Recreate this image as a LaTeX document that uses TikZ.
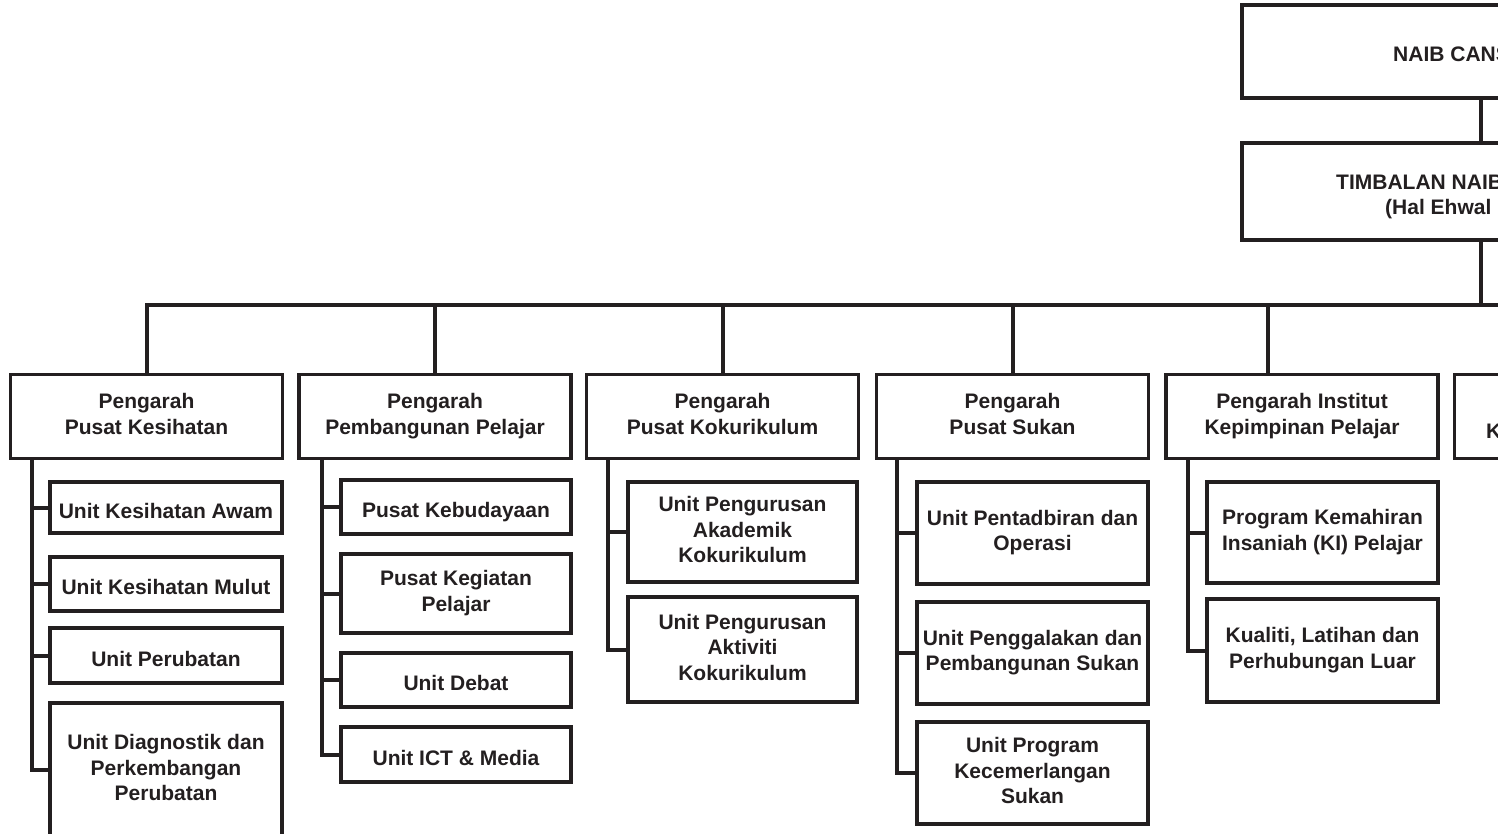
\documentclass[tikz,border=0pt]{standalone}
\usepackage{fontspec}
\setmainfont{Liberation Sans}
\usepackage{tikz}
\definecolor{inkblack}{RGB}{35,31,32}
\newcommand{\boxstrut}{\vrule width 0pt height 26pt depth 5pt}
\tikzset{
  orgbox/.style={draw=inkblack, line width=3.6pt, rectangle, align=center, inner sep=2pt,
    text=inkblack, font=\fontsize{21}{25.5}\selectfont\bfseries,
    execute at begin node=\boxstrut, execute at end node=\boxstrut},
  headbox/.style={orgbox, minimum width=272, minimum height=84},
  unitbox/.style={orgbox, minimum width=231},
  cuttext/.style={anchor=base west, inner sep=0pt, text=inkblack,
    font=\fontsize{21}{25}\selectfont\bfseries},
  link/.style={draw=inkblack, line width=4pt}
}

\begin{document}
\begin{tikzpicture}[x=1pt, y=-1pt]
  \useasboundingbox (0,0) rectangle (1498,833);
  \clip (0,0) rectangle (1498,833);
  \node[orgbox, minimum width=478, minimum height=93] (vc) at (1481,51.5) {};
  \node[cuttext] (vct) at (1393,61) {NAIB CANS};
  \node[orgbox, minimum width=478, minimum height=97] (tnc) at (1481,191.5) {};
  \node[cuttext] (tnct) at (1336,189) {TIMBALAN NAIB};
  \node[cuttext] (tncs) at (1385,214) {(Hal Ehwal};
  \foreach \n/\x/\t in {d1/146.5/{Pengarah\\Pusat Kesihatan},
      d2/435/{Pengarah\\Pembangunan Pelajar}, d3/722.5/{Pengarah\\Pusat Kokurikulum},
      d4/1012.5/{Pengarah\\Pusat Sukan}, d5/1302/{Pengarah Institut\\Kepimpinan Pelajar}}{
    \node[headbox] (\n) at (\x,416.5) {\t};
  }
  \node[headbox] (d6) at (1590.5,416.5) {};
  \node[cuttext] (d6t) at (1486,438) {K};
  \coordinate (busend) at (1520,305);
  \coordinate (j5) at (1268,305);
  \draw[link] (vc.south) -- (tnc.north);
  \draw[link] (tnc.south) -- (tnc.south |- busend);
  \draw[link] (d1.north) |- (busend);
  \foreach \n in {d2,d3,d4}{
    \draw[link] (\n.north) -- (\n.north |- busend);
  }
  \draw[link] (j5) -- (j5 |- d5.north);
  \foreach \n/\y/\h/\t in {c11/507.5/51/{Unit Kesihatan Awam}, c12/584/54/{Unit Kesihatan Mulut},
      c13/655.5/55/{Unit Perubatan}, c14/770/134/{Unit Diagnostik dan\\Perkembangan\\Perubatan}}{
    \node[unitbox, minimum width=232, minimum height=\h] (\n) at (166,\y) {\t};
  }
  \foreach \n/\y/\h/\t in {c21/507/54/{Pusat Kebudayaan}, c22/593.5/79/{Pusat Kegiatan\\Pelajar},
      c23/680/54/{Unit Debat}, c24/754.5/55/{Unit ICT \& Media}}{
    \node[unitbox, minimum width=230, minimum height=\h] (\n) at (456,\y) {\t};
  }
  \foreach \n/\y/\h/\t in {c31/532/100/{Unit Pengurusan\\Akademik\\Kokurikulum},
      c32/649.5/105/{Unit Pengurusan\\Aktiviti\\Kokurikulum}}{
    \node[unitbox, minimum width=229, minimum height=\h] (\n) at (742.5,\y) {\t};
  }
  \foreach \n/\y/\t in {c41/533/{Unit Pentadbiran dan\\Operasi},
      c42/653/{Unit Penggalakan dan\\Pembangunan Sukan}, c43/773/{Unit Program\\Kecemerlangan\\Sukan}}{
    \node[unitbox, minimum height=102] (\n) at (1032.5,\y) {\t};
  }
  \foreach \n/\y/\h/\t in {c51/532.5/101/{Program Kemahiran\\Insaniah (KI) Pelajar},
      c52/650.5/103/{Kualiti, Latihan dan\\Perhubungan Luar}}{
    \node[unitbox, minimum height=\h] (\n) at (1322.5,\y) {\t};
  }
  \coordinate (s1) at (32,0);
  \coordinate (s2) at (322,0);
  \coordinate (s3) at (608,0);
  \coordinate (s4) at (897,0);
  \coordinate (s5) at (1188,0);
  \draw[link] (s1 |- d1.south) |- (c14.west);
  \draw[link] (s2 |- d2.south) |- (c24.west);
  \draw[link] (s3 |- d3.south) |- (c32.west);
  \draw[link] (s4 |- d4.south) |- (c43.west);
  \draw[link] (s5 |- d5.south) |- (c52.west);
  \foreach \n/\s in {c11/s1, c12/s1, c13/s1, c21/s2, c22/s2, c23/s2, c31/s3, c41/s4, c42/s4, c51/s5}{
    \draw[link] (\s |- \n.west) -- (\n.west);
  }
\end{tikzpicture}
\end{document}
